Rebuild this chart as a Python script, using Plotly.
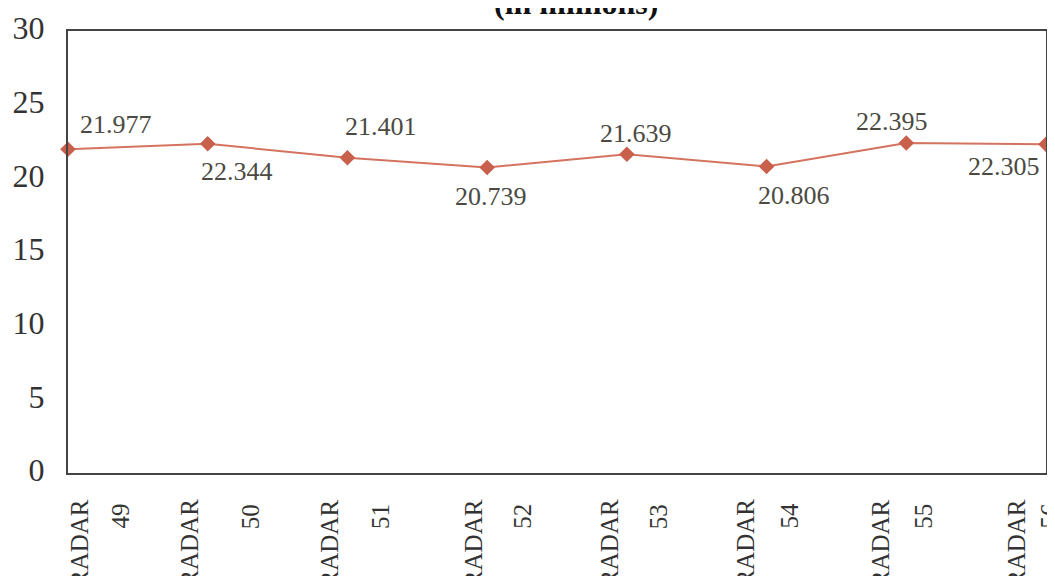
import plotly.graph_objects as go

categories = ["RADAR 49", "RADAR 50", "RADAR 51", "RADAR 52",
              "RADAR 53", "RADAR 54", "RADAR 55", "RADAR 56"]
label_top = ["RADAR"] * 8
label_num = ["49", "50", "51", "52", "53", "54", "55", "56"]
values = [21.977, 22.344, 21.401, 20.739, 21.639, 20.806, 22.395, 22.305]
value_text = ["21.977", "22.344", "21.401", "20.739", "21.639", "20.806", "22.395", "22.305"]
y_ticks = [0, 5, 10, 15, 20, 25, 30]

xs = list(range(len(categories)))

# styling offsets (pixels)
lab_dx = [48, 29, 34, 4, 9, 27, -14, -42]
lab_dy = [25, -28, 31, -29, 21, -29, 22, -22]
radar_dx = [11, -19, -18, -14, -18, -22, -26, -30]
num_dx = [52, 43, 33, 35, 32, 22, 17, 3]

FONT = "Liberation Serif"
PH = 442  # plot height in px
PW = 978  # plot width in px
OFF = 8   # page body margin

fig = go.Figure()
fig.add_trace(go.Scatter(
    x=xs, y=values, mode="lines+markers",
    line=dict(color="#D4735F", width=2),
    marker=dict(symbol="diamond", size=12, color="#C8604C"),
    cliponaxis=False, showlegend=False, hoverinfo="skip",
))

ann = []
for i, (v, t) in enumerate(zip(values, value_text)):
    ann.append(dict(x=xs[i], y=v, xref="x", yref="y", text=t, showarrow=False,
                    xshift=lab_dx[i], yshift=lab_dy[i],
                    font=dict(family=FONT, size=26, color="#4A4A42")))
for i in range(len(categories)):
    ann.append(dict(x=xs[i], y=-(497 - 473) / PH, xref="x", yref="paper",
                    text=label_top[i], showarrow=False, textangle=-90,
                    xshift=radar_dx[i], yanchor="top", xanchor="center",
                    font=dict(family=FONT, size=25, color="#333333")))
    ann.append(dict(x=xs[i], y=-(531 - 473) / PH, xref="x", yref="paper",
                    text=label_num[i], showarrow=False, textangle=-90,
                    xshift=num_dx[i], yanchor="bottom", xanchor="center",
                    font=dict(family=FONT, size=25, color="#333333")))
ann.append(dict(x=(576 - 68) / PW, y=(473 - 23) / PH, xref="paper", yref="paper",
                text="<b>(in millions)</b>", showarrow=False, yanchor="bottom",
                font=dict(family=FONT, size=32, color="#111111")))

fig.update_layout(
    width=1055 - 2 * OFF, height=584 - 2 * OFF,
    margin=dict(l=68 - OFF, r=1, t=31 - OFF, b=584 - 2 * OFF - (473 - OFF)),
    paper_bgcolor="white", plot_bgcolor="white",
    annotations=ann,
    xaxis=dict(range=[0, 7], showgrid=False, zeroline=False, automargin=False,
               showticklabels=False, ticks="",
               showline=True, mirror=True, linecolor="#444444", linewidth=2),
    yaxis=dict(range=[0, 30], tickvals=y_ticks, showgrid=False, zeroline=False,
               automargin=False,
               ticks="", ticklabelstandoff=15, ticklabelshift=-3,
               tickfont=dict(family=FONT, size=32, color="#333333"),
               showline=True, mirror=True, linecolor="#444444", linewidth=2),
)
fig.write_html("out.html")
